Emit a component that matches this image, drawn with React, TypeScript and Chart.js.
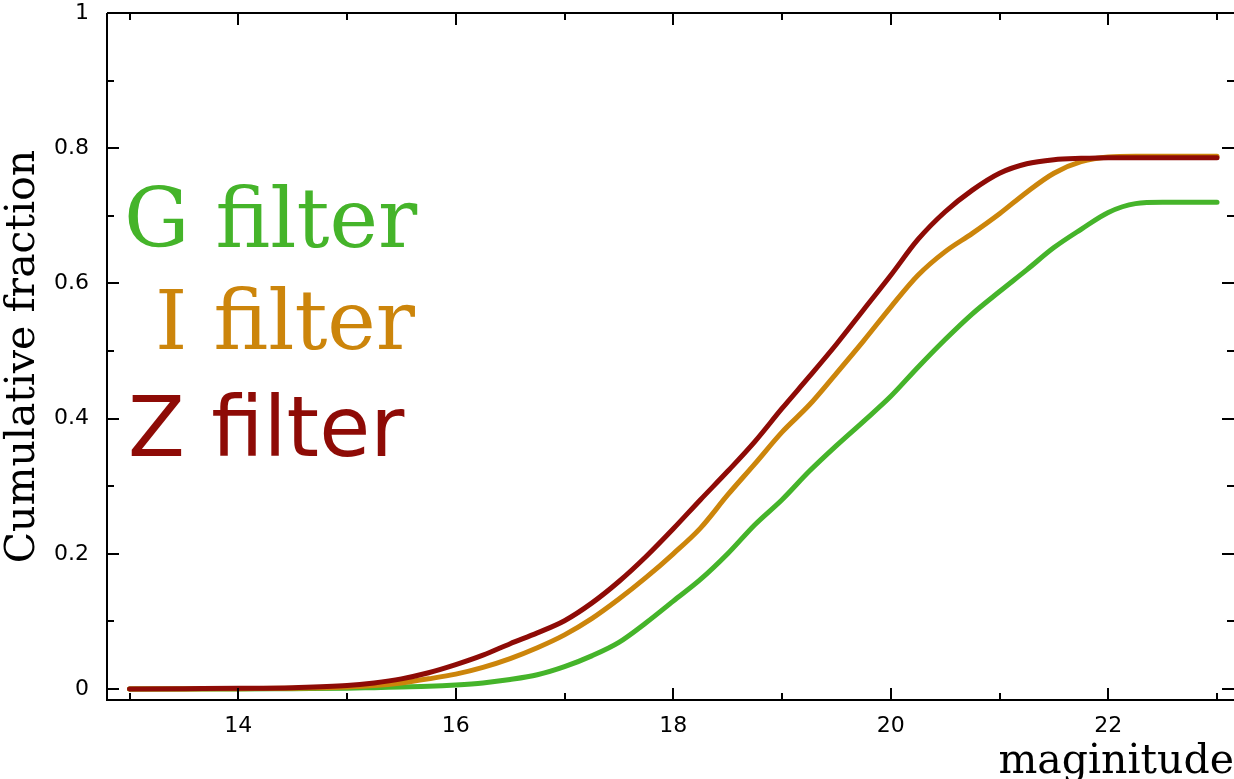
import React, { useEffect, useRef } from "react";
import { Chart, registerables } from "chart.js";

Chart.register(...registerables);

// ---- data ----
const magnitudes = [
  13, 13.5, 14, 14.5, 15, 15.25, 15.5, 15.75, 16, 16.25, 16.5, 16.75, 17, 17.25,
  17.5, 17.75, 18, 18.25, 18.5, 18.75, 19, 19.25, 19.5, 19.75, 20, 20.25, 20.5,
  20.75, 21, 21.25, 21.5, 21.75, 22, 22.25, 22.5, 22.75, 23,
];

const gFilter = [
  0, 0, 0, 0.0005, 0.001, 0.002, 0.003, 0.004, 0.006, 0.009, 0.014, 0.021, 0.033,
  0.049, 0.069, 0.098, 0.13, 0.162, 0.2, 0.243, 0.28, 0.322, 0.36, 0.396, 0.433,
  0.476, 0.517, 0.555, 0.588, 0.62, 0.653, 0.68, 0.705, 0.718, 0.72, 0.72, 0.72,
];

const iFilter = [
  0, 0, 0.0005, 0.001, 0.003, 0.005, 0.009, 0.015, 0.022, 0.032, 0.045, 0.061,
  0.08, 0.104, 0.133, 0.165, 0.2, 0.238, 0.287, 0.333, 0.38, 0.42, 0.467, 0.515,
  0.565, 0.612, 0.647, 0.674, 0.703, 0.735, 0.763, 0.78, 0.787, 0.788, 0.788,
  0.788, 0.788,
];

const zFilter = [
  0, 0.0005, 0.001, 0.002, 0.005, 0.009, 0.015, 0.024, 0.036, 0.05, 0.067, 0.083,
  0.101, 0.127, 0.159, 0.196, 0.237, 0.28, 0.322, 0.366, 0.415, 0.462, 0.51,
  0.561, 0.612, 0.665, 0.706, 0.738, 0.763, 0.777, 0.783, 0.785, 0.786, 0.786,
  0.786, 0.786, 0.786,
];

const seriesNames = ["G filter", "I filter", "Z filter"];
const seriesColors = ["#45b42a", "#cc850b", "#8e0b06"];

const xTickValues = [13, 14, 15, 16, 17, 18, 19, 20, 21, 22, 23];
const xTickLabels = ["", "14", "", "16", "", "18", "", "20", "", "22", ""];
const yTickValues = [0, 0.1, 0.2, 0.3, 0.4, 0.5, 0.6, 0.7, 0.8, 0.9, 1];
const yTickLabels = ["0", "", "0.2", "", "0.4", "", "0.6", "", "0.8", "", "1"];

const xTitle = "maginitude";
const yTitle = "Cumulative fraction";

const legendFonts = [
  "82px 'DejaVu Serif'",
  "82px 'DejaVu Serif'",
  "83px 'DejaVu Sans'",
];
const legendPos = [
  { x: 124, y: 247 },
  { x: 155, y: 349 },
  { x: 128, y: 456 },
];

const tickFont = { family: "'DejaVu Sans', sans-serif", size: 22, lineHeight: 1 };
const titleFont = { family: "'DejaVu Serif', serif", size: 41, lineHeight: 1 };

const framePlugin = {
  id: "frameTicks",
  afterDraw(chart: any) {
    const { ctx, chartArea, scales } = chart;
    const { left, right, top, bottom } = chartArea;
    const xs = scales.x;
    const ys = scales.y;
    ctx.save();
    ctx.strokeStyle = "#000";
    ctx.lineWidth = 2;
    ctx.beginPath();
    ctx.moveTo(left, top);
    ctx.lineTo(right, top);
    ctx.moveTo(left, top);
    ctx.lineTo(left, bottom);
    ctx.lineTo(right, bottom);
    ctx.stroke();
    ctx.beginPath();
    xTickValues.forEach((v, i) => {
      const px = Math.round(xs.getPixelForValue(v));
      const len = xTickLabels[i] !== "" ? 12 : 7;
      ctx.moveTo(px, bottom);
      ctx.lineTo(px, bottom - len);
      ctx.moveTo(px, top);
      ctx.lineTo(px, top + len);
    });
    yTickValues.forEach((v, i) => {
      const py = Math.round(ys.getPixelForValue(v));
      const len = yTickLabels[i] !== "" ? 12 : 7;
      ctx.moveTo(left, py);
      ctx.lineTo(left + len, py);
      ctx.moveTo(right, py);
      ctx.lineTo(right - len, py);
    });
    ctx.stroke();

    // legend labels
    ctx.textBaseline = "alphabetic";
    ctx.textAlign = "left";
    seriesNames.forEach((name, i) => {
      ctx.font = legendFonts[i];
      ctx.fillStyle = seriesColors[i];
      ctx.fillText(name, legendPos[i].x, legendPos[i].y);
    });
    ctx.restore();
  },
};

export default function App() {
  const canvasRef = useRef<HTMLCanvasElement | null>(null);

  useEffect(() => {
    document.body.style.margin = "0";
    const canvas = canvasRef.current;
    if (!canvas) return;
    const seriesData = [gFilter, iFilter, zFilter];
    const chart = new Chart(canvas, {
      type: "line",
      data: {
        datasets: seriesData.map((vals, i) => ({
          label: seriesNames[i],
          data: magnitudes.map((m, j) => ({ x: m, y: vals[j] })),
          borderColor: seriesColors[i],
          backgroundColor: seriesColors[i],
          borderWidth: 5,
          pointRadius: 0,
          fill: false,
          cubicInterpolationMode: "monotone" as const,
          borderCapStyle: "round" as const,
          borderJoinStyle: "round" as const,
          order: 3 - i,
        })),
      },
      options: {
        animation: false,
        responsive: false,
        devicePixelRatio: 1,
        layout: { padding: { top: 13, right: 0, left: 0, bottom: 0 } },
        plugins: {
          legend: { display: false },
          tooltip: { enabled: false },
        },
        scales: {
          x: {
            type: "linear",
            min: 12.793,
            max: 23.156,
            afterFit: (s: any) => {
              s.height = 79;
              s.paddingLeft = 0;
              s.paddingRight = 0;
              s.paddingTop = 0;
              s.paddingBottom = 0;
            },
            afterBuildTicks: (axis: any) => {
              axis.ticks = xTickValues.map((v) => ({ value: v }));
            },
            grid: { display: false, drawTicks: false },
            border: { display: false },
            ticks: {
              autoSkip: false,
              maxRotation: 0,
              padding: 15,
              color: "#000",
              font: tickFont,
              callback: (_v: any, idx: number) => xTickLabels[idx],
            },
            title: {
              display: true,
              text: xTitle,
              align: "end",
              color: "#000",
              font: titleFont,
              padding: { top: 0, bottom: -4 },
            },
          },
          y: {
            type: "linear",
            min: -0.0163,
            max: 1,
            afterFit: (s: any) => {
              s.width = 107;
              s.paddingLeft = 0;
              s.paddingRight = 0;
              s.paddingTop = 0;
              s.paddingBottom = 0;
            },
            afterBuildTicks: (axis: any) => {
              axis.ticks = yTickValues.map((v) => ({ value: v }));
            },
            grid: { display: false, drawTicks: false },
            border: { display: false },
            ticks: {
              autoSkip: false,
              padding: 18,
              color: "#000",
              font: tickFont,
              callback: (_v: any, idx: number) => yTickLabels[idx],
            },
            title: {
              display: true,
              text: yTitle,
              color: "#000",
              font: titleFont,
              padding: { top: 3, bottom: 0 },
            },
          },
        },
      },
      plugins: [framePlugin],
    });
    return () => chart.destroy();
  }, []);

  return (
    <div style={{ width: 1234, height: 779, position: "relative", background: "#fff" }}>
      <canvas ref={canvasRef} width={1234} height={779} style={{ display: "block" }} />
    </div>
  );
}
